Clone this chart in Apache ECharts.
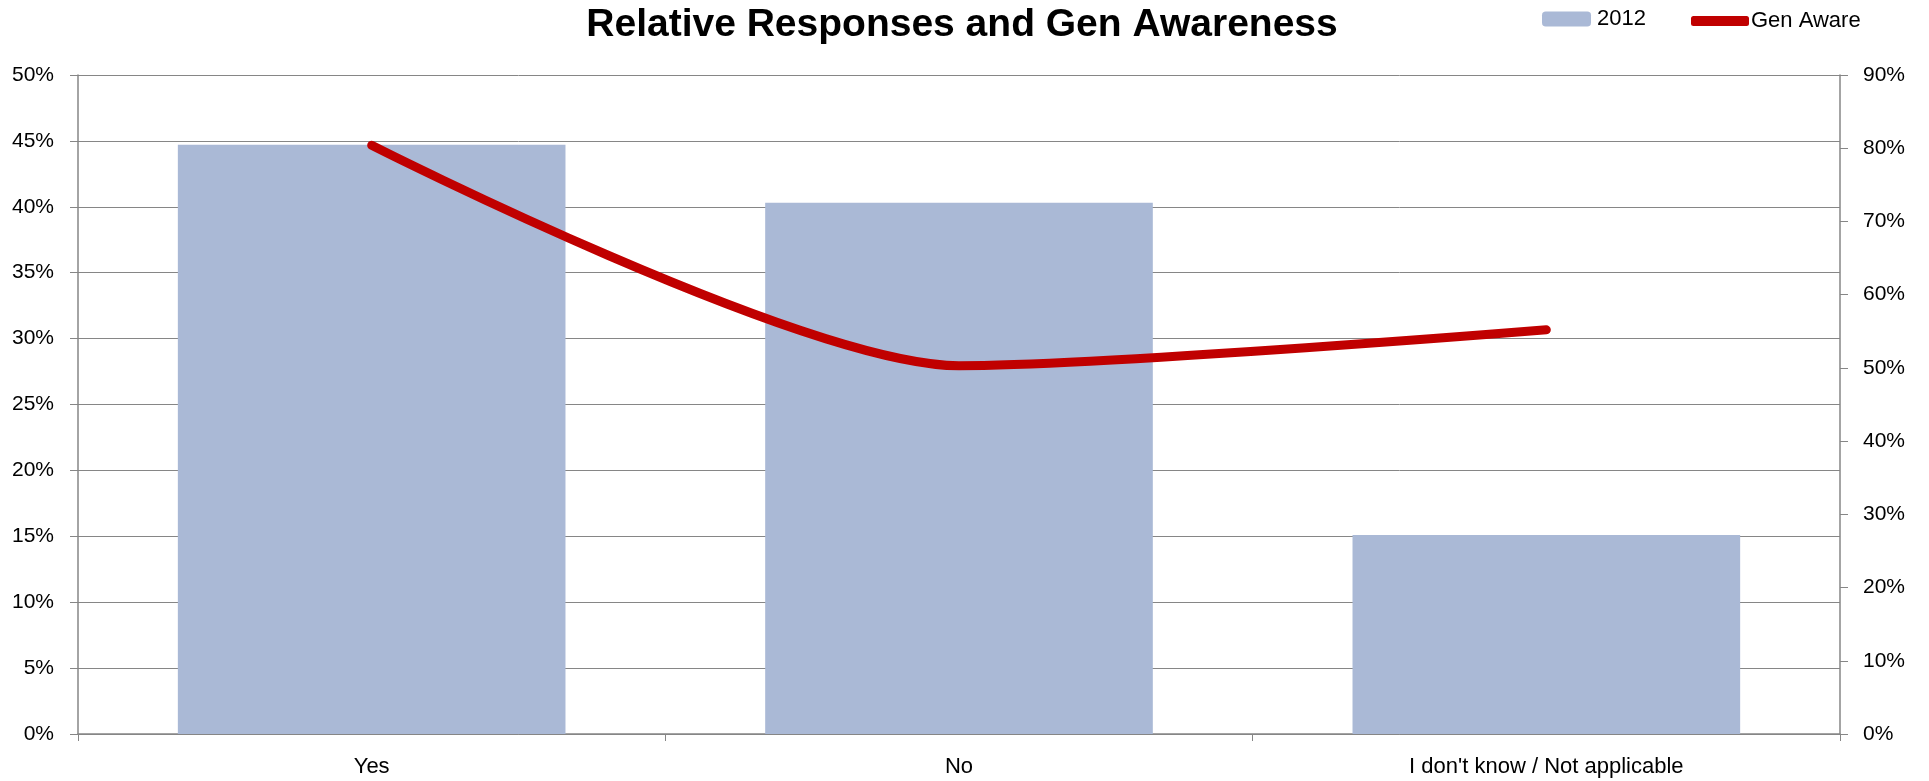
<!DOCTYPE html>
<html>
<head>
<meta charset="utf-8">
<script src="https://cdn.jsdelivr.net/npm/echarts@6/dist/echarts.min.js"></script>
<style>
  html, body { margin: 0; padding: 0; background: #fff; }
  #main { width: 1929px; height: 781px; }
</style>
</head>
<body>
<div id="main"></div>
<script>
var categories = ['Yes', 'No', "I don't know / Not applicable"];
var responses2012 = [0.447, 0.403, 0.151];
var genAware = [0.804, 0.503, 0.552];

var leftTicks = { min: 0, max: 0.5, interval: 0.05 };
var rightTicks = { min: 0, max: 0.9, interval: 0.1 };

var labelFont = 'Liberation Sans';
var axisGray = '#868686';

function pct(v) {
    return Math.round(v * 100) + '%';
}

var myChart = echarts.init(document.getElementById('main'));

var option = {
    animation: false,
    title: {
        text: 'Relative Responses and Gen Awareness',
        left: 957,
        textAlign: 'center',
        top: 1,
        textStyle: {
            fontFamily: 'Liberation Sans',
            fontWeight: 'bold',
            fontSize: 39,
            color: '#000'
        }
    },
    legend: [
        {
            data: ['2012'],
            left: 1542,
            top: 8,
            padding: 0,
            itemWidth: 49,
            itemHeight: 15,
            textStyle: { fontFamily: labelFont, fontSize: 22, color: '#000', padding: [0, 0, 0, 1] }
        },
        {
            data: [{ name: 'Gen Aware', icon: 'roundRect' }],
            left: 1691,
            top: 10,
            padding: 0,
            itemWidth: 58,
            itemHeight: 10,
            textStyle: { fontFamily: labelFont, fontSize: 22, color: '#000', padding: [0, 0, 0, -3] }
        }
    ],
    grid: {
        left: 78,
        right: 89,
        top: 75,
        bottom: 47
    },
    xAxis: [
        {
            type: 'category',
            data: categories,
            axisLine: { lineStyle: { color: axisGray, width: 1.5 } },
            axisTick: { show: true, length: 7, lineStyle: { color: axisGray } },
            axisLabel: {
                margin: 22,
                fontFamily: labelFont,
                fontSize: 22,
                color: '#000'
            }
        }
    ],
    yAxis: [
        {
            type: 'value',
            min: leftTicks.min,
            max: leftTicks.max,
            interval: leftTicks.interval,
            axisLine: { show: true, lineStyle: { color: axisGray, width: 1.5 } },
            axisTick: { show: true, length: 8, lineStyle: { color: axisGray } },
            splitLine: { show: true, lineStyle: { color: axisGray, width: 1 } },
            axisLabel: {
                margin: 24,
                fontFamily: labelFont,
                fontSize: 21,
                color: '#000',
                formatter: pct
            }
        },
        {
            type: 'value',
            min: rightTicks.min,
            max: rightTicks.max,
            interval: rightTicks.interval,
            position: 'right',
            axisLine: { show: true, lineStyle: { color: axisGray, width: 1.5 } },
            axisTick: { show: true, length: 8, lineStyle: { color: axisGray } },
            splitLine: { show: false },
            axisLabel: {
                margin: 23,
                fontFamily: labelFont,
                fontSize: 21,
                color: '#000',
                formatter: pct
            }
        }
    ],
    series: [
        {
            name: '2012',
            type: 'bar',
            data: responses2012,
            barCategoryGap: '34%',
            itemStyle: { color: '#AAB9D6' }
        },
        {
            name: 'Gen Aware',
            type: 'line',
            yAxisIndex: 1,
            data: genAware,
            smooth: 0.25,
            symbol: 'none',
            itemStyle: { color: '#C00000' },
            lineStyle: { color: '#C00000', width: 9, cap: 'round' }
        }
    ]
};

myChart.setOption(option);
</script>
</body>
</html>
